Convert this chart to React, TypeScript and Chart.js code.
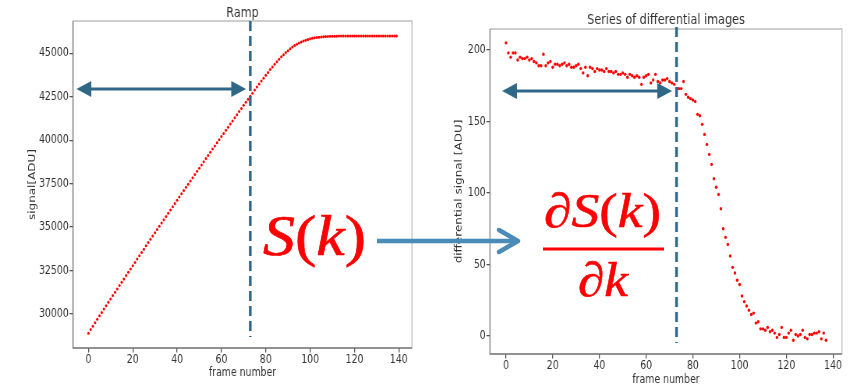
import React, { useEffect, useRef } from "react";
import { Chart, registerables } from "chart.js";

Chart.register(...registerables);

// Integrated ramp signal, one value per frame (frames 0..139)
const rampSignal = [
  28900, 29105, 29303, 29498, 29696, 29894, 30087, 30282, 30476, 30670,
  30865, 31058, 31252, 31444, 31635, 31824, 32013, 32210, 32399, 32590,
  32782, 32970, 33160, 33350, 33539, 33729, 33920, 34109, 34299, 34487,
  34675, 34864, 35054, 35241, 35425, 35613, 35795, 35983, 36170, 36355,
  36542, 36728, 36914, 37099, 37286, 37471, 37656, 37840, 38025, 38208,
  38391, 38575, 38758, 38939, 39122, 39304, 39485, 39667, 39848, 40024,
  40205, 40387, 40570, 40747, 40926, 41109, 41287, 41464, 41643, 41822,
  42002, 42180, 42357, 42533, 42706, 42879, 43052, 43230, 43399, 43566,
  43732, 43897, 44061, 44216, 44370, 44518, 44659, 44793, 44920, 45040,
  45150, 45254, 45353, 45442, 45517, 45586, 45650, 45706, 45754, 45798,
  45835, 45865, 45890, 45910, 45927, 45940, 45952, 45961, 45968, 45974,
  45978, 45981, 45984, 45986, 45988, 45989, 45990, 45991, 45992, 45992,
  45993, 45993, 45994, 45994, 45994, 45995, 45995, 45995, 45995, 45996,
  45996, 45996, 45996, 45997, 45997, 45997, 45997, 45997, 45998, 45998,
];

// Frame-to-frame differences (frames 0..137)
const diffSignal = [
  205, 198, 195, 198, 198, 193, 195, 194, 194, 195,
  193, 194, 192, 191, 189, 189, 197, 189, 191, 192,
  188, 190, 190, 189, 190, 191, 189, 190, 188, 188,
  189, 190, 187, 184, 188, 182, 188, 187, 185, 187,
  186, 186, 185, 187, 185, 185, 184, 185, 183, 183,
  184, 183, 181, 183, 182, 181, 182, 181, 176, 181,
  182, 183, 177, 179, 183, 178, 177, 179, 179, 180,
  178, 177, 176, 173, 173, 173, 178, 169, 167, 166,
  165, 164, 155, 154, 148, 141, 134, 127, 120, 110,
  104, 99, 89, 75, 69, 64, 56, 48, 44, 39,
  36, 28, 24, 21, 18, 15, 16, 9, 10, 5,
  5, 4, 6, 3, 4, 2, -1, 1, 6, -1,
  -1, 2, 4, -3, 1, 0, 1, 4, -1, -2,
  1, 1, 2, 2, 3, -2, 2, -3,
];

const frameTicks = [0, 20, 40, 60, 80, 100, 120, 140];
const rampTicks = [30000, 32500, 35000, 37500, 40000, 42500, 45000];
const diffTicks = [0, 50, 100, 150, 200];

// Frame where the ramp leaves its linear regime
const kinkFrame = 73;

// The figure is rendered wide and then compressed horizontally
const SQUEEZE = 0.78;
const CW = 549;
const CH = 388;

const INK = "#333333";
const RED = "#ff0000";
const MARK = "#2f6787";
const LINK = "#4a8bb8";

type PanelSpec = {
  title: string;
  titleBaseline: number;
  values: number[];
  pointRadius: number;
  xMin: number;
  xMax: number;
  yMin: number;
  yMax: number;
  yTicks: number[];
  yTitle: string;
  yTitlePad: number;
  xTitlePad: number;
  area: { left: number; right: number; top: number; bottom: number };
  arrow: { from: number; to: number; y: number };
  dashTop: number;
};

const decorPlugin = {
  id: "panelDecor",
  afterDraw(chart: any) {
    const spec: PanelSpec = chart.options.plugins.panelDecor.spec;
    const { ctx, chartArea } = chart;
    const { left, right, top, bottom } = chartArea;
    const xs = chart.scales.x;
    const ys = chart.scales.y;
    ctx.save();

    // axes frame
    ctx.lineWidth = 1.3;
    ctx.strokeStyle = "#bdbdbd";
    ctx.beginPath();
    ctx.moveTo(left, top);
    ctx.lineTo(right, top);
    ctx.lineTo(right, bottom);
    ctx.stroke();
    ctx.strokeStyle = "#6f6f6f";
    ctx.beginPath();
    ctx.moveTo(left, top);
    ctx.lineTo(left, bottom);
    ctx.lineTo(right, bottom);
    ctx.stroke();

    // title
    ctx.fillStyle = INK;
    ctx.font = '14.4px "DejaVu Sans"';
    ctx.textAlign = "center";
    ctx.textBaseline = "alphabetic";
    ctx.fillText(spec.title, (left + right) / 2, spec.titleBaseline);

    // dashed marker at the kink frame
    const xk = xs.getPixelForValue(kinkFrame);
    ctx.strokeStyle = MARK;
    ctx.lineWidth = 3.4;
    ctx.setLineDash([10, 5]);
    ctx.beginPath();
    ctx.moveTo(xk, top + spec.dashTop);
    ctx.lineTo(xk, bottom - 11);
    ctx.stroke();
    ctx.setLineDash([]);

    // double-headed arrow spanning the linear range
    const x0 = xs.getPixelForValue(spec.arrow.from);
    const x1 = xs.getPixelForValue(spec.arrow.to);
    const ya = ys.getPixelForValue(spec.arrow.y);
    const head = 19;
    const half = 8;
    ctx.lineWidth = 3;
    ctx.beginPath();
    ctx.moveTo(x0 + head - 2, ya);
    ctx.lineTo(x1 - head + 2, ya);
    ctx.stroke();
    ctx.fillStyle = MARK;
    ctx.beginPath();
    ctx.moveTo(x0, ya);
    ctx.lineTo(x0 + head, ya - half);
    ctx.lineTo(x0 + head, ya + half);
    ctx.closePath();
    ctx.fill();
    ctx.beginPath();
    ctx.moveTo(x1, ya);
    ctx.lineTo(x1 - head, ya - half);
    ctx.lineTo(x1 - head, ya + half);
    ctx.closePath();
    ctx.fill();

    ctx.restore();
  },
};

const tickFont = { family: "DejaVu Sans", size: 12 };

function buildConfig(spec: PanelSpec): any {
  const points = spec.values.map((v, k) => ({ x: k, y: v }));
  return {
    type: "scatter",
    data: {
      datasets: [
        {
          data: points,
          pointRadius: spec.pointRadius,
          pointBackgroundColor: RED,
          pointBorderWidth: 0,
          showLine: false,
        },
      ],
    },
    options: {
      animation: false,
      responsive: false,
      devicePixelRatio: 1,
      events: [],
      layout: {
        padding: { left: 0, top: spec.area.top, right: CW - spec.area.right, bottom: 0 },
      },
      plugins: {
        legend: { display: false },
        tooltip: { enabled: false },
        panelDecor: { spec },
      },
      scales: {
        x: {
          type: "linear",
          min: spec.xMin,
          max: spec.xMax,
          afterBuildTicks: (s: any) => {
            s.ticks = frameTicks.map((v) => ({ value: v }));
          },
          afterFit: (s: any) => {
            s.height = CH - spec.area.bottom;
          },
          grid: { drawOnChartArea: false, drawTicks: true, tickLength: 4.5, color: "#555", lineWidth: 1.3 },
          border: { display: false },
          ticks: {
            font: tickFont,
            color: INK,
            padding: 0,
            maxRotation: 0,
            autoSkip: false,
            callback: (v: any) => String(v),
          },
          title: {
            display: true,
            text: "frame number",
            font: tickFont,
            color: INK,
            padding: { top: 0, bottom: spec.xTitlePad },
          },
        },
        y: {
          type: "linear",
          min: spec.yMin,
          max: spec.yMax,
          afterBuildTicks: (s: any) => {
            s.ticks = spec.yTicks.map((v) => ({ value: v }));
          },
          afterFit: (s: any) => {
            s.width = spec.area.left;
          },
          grid: { drawOnChartArea: false, drawTicks: true, tickLength: 4.5, color: "#555", lineWidth: 1.3 },
          border: { display: false },
          ticks: {
            font: tickFont,
            color: INK,
            padding: 1,
            autoSkip: false,
            callback: (v: any) => String(v),
          },
          title: {
            display: true,
            text: spec.yTitle,
            font: tickFont,
            color: INK,
            padding: { top: spec.yTitlePad, bottom: 0 },
          },
        },
      },
    },
    plugins: [decorPlugin],
  };
}

const rampSpec: PanelSpec = {
  title: "Ramp",
  titleBaseline: 16.7,
  values: rampSignal,
  pointRadius: 1.5,
  xMin: -6.95,
  xMax: 145.95,
  yMin: 28045,
  yMax: 46855,
  yTicks: rampTicks,
  yTitle: "signal[ADU]",
  yTitlePad: 35,
  xTitlePad: 7.8,
  area: { left: 73 / SQUEEZE, right: 412 / SQUEEZE, top: 21, bottom: 348 },
  arrow: { from: -5.4, to: 71.1, y: 42950 },
  dashTop: 0,
};

const diffSpec: PanelSpec = {
  title: "Series of differential images",
  titleBaseline: 24,
  values: diffSignal,
  pointRadius: 1.7,
  xMin: -6.85,
  xMax: 143.85,
  yMin: -12.6,
  yMax: 214.7,
  yTicks: diffTicks,
  yTitle: "differential signal [ADU]",
  yTitlePad: 32.5,
  xTitlePad: 0.8,
  area: { left: 62 / SQUEEZE, right: 414 / SQUEEZE, top: 29, bottom: 354 },
  arrow: { from: -1.7, to: 71.1, y: 171.3 },
  dashTop: -2,
};

function Panel({ spec, left }: { spec: PanelSpec; left: number }) {
  const ref = useRef<HTMLCanvasElement | null>(null);
  useEffect(() => {
    if (!ref.current) return;
    const chart = new Chart(ref.current, buildConfig(spec));
    return () => chart.destroy();
  }, [spec]);
  return (
    <div
      style={{
        position: "absolute",
        left,
        top: 0,
        width: CW,
        height: CH,
        transform: `scaleX(${SQUEEZE})`,
        transformOrigin: "0 0",
      }}
    >
      <canvas ref={ref} width={CW} height={CH} style={{ width: CW, height: CH, display: "block" }} />
    </div>
  );
}

const mathFont = "'Liberation Serif', 'DejaVu Serif', serif";

export default function App() {
  return (
    <div
      style={{
        position: "fixed",
        left: 0,
        top: 0,
        width: 856,
        height: 388,
        background: "#ffffff",
        overflow: "hidden",
      }}
    >
      <Panel spec={rampSpec} left={0} />
      <Panel spec={diffSpec} left={428} />
      <svg width={856} height={388} style={{ position: "absolute", left: 0, top: 0 }}>
        <text
          x={263}
          y={255}
          fontFamily={mathFont}
          fontSize={58}
          fill={RED}
          stroke={RED}
          strokeWidth={0.7}
          textLength={103}
          lengthAdjust="spacingAndGlyphs"
        >
          <tspan fontStyle="italic">S</tspan>
          <tspan>(</tspan>
          <tspan fontStyle="italic">k</tspan>
          <tspan>)</tspan>
        </text>
        <line x1={377} y1={241} x2={516} y2={241} stroke={LINK} strokeWidth={4.5} />
        <polyline
          points="499,230 518,241 499,252"
          fill="none"
          stroke={LINK}
          strokeWidth={4.5}
          strokeLinecap="round"
          strokeLinejoin="round"
        />
        <text
          x={544}
          y={227}
          fontFamily={mathFont}
          fontSize={48}
          fill={RED}
          stroke={RED}
          strokeWidth={0.6}
          textLength={117}
          lengthAdjust="spacingAndGlyphs"
        >
          <tspan fontStyle="italic">∂S</tspan>
          <tspan>(</tspan>
          <tspan fontStyle="italic">k</tspan>
          <tspan>)</tspan>
        </text>
        <line x1={543} y1={249} x2={664} y2={249} stroke={RED} strokeWidth={3} />
        <text
          x={578}
          y={296}
          fontFamily={mathFont}
          fontSize={48}
          fill={RED}
          stroke={RED}
          strokeWidth={0.6}
          fontStyle="italic"
          textLength={50}
          lengthAdjust="spacingAndGlyphs"
        >
          ∂k
        </text>
      </svg>
    </div>
  );
}
